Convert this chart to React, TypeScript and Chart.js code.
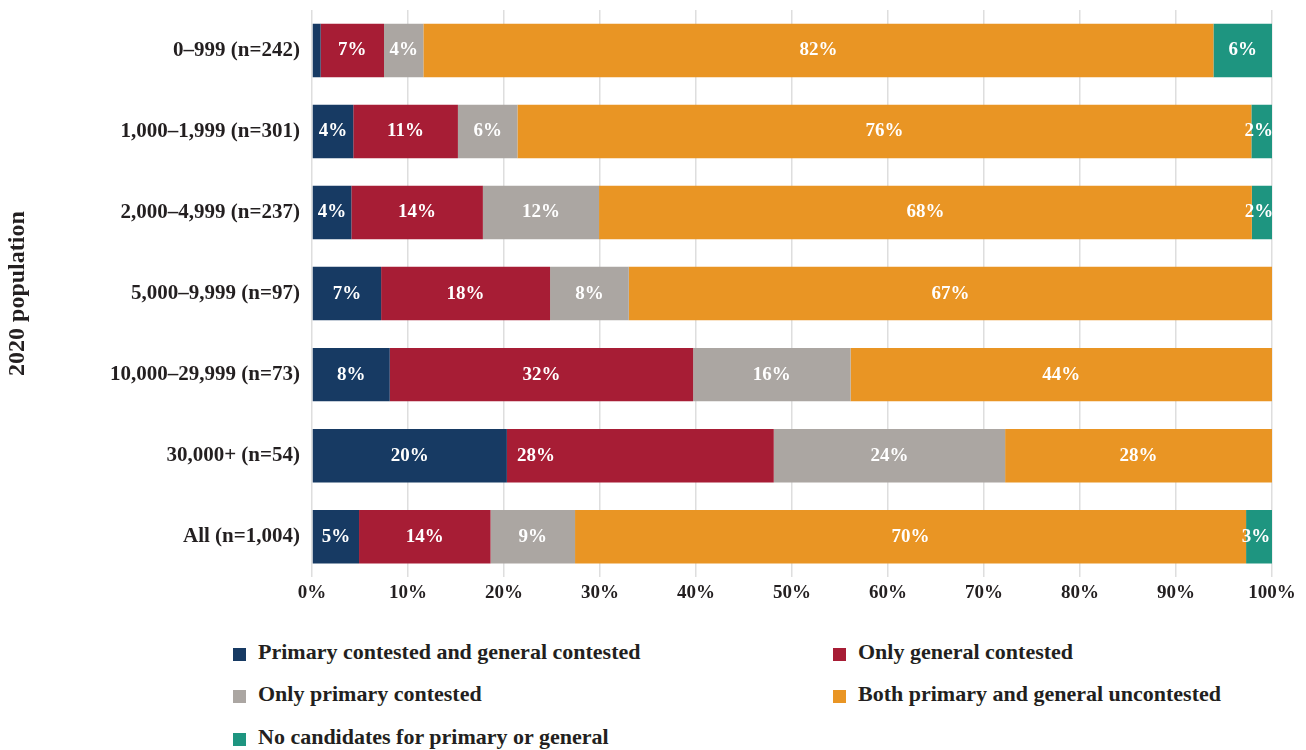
import React, { useEffect, useRef } from "react";
import { Chart, registerables } from "chart.js";

Chart.register(...registerables);

const categories = [
  "0–999 (n=242)",
  "1,000–1,999 (n=301)",
  "2,000–4,999 (n=237)",
  "5,000–9,999 (n=97)",
  "10,000–29,999 (n=73)",
  "30,000+ (n=54)",
  "All (n=1,004)",
];

const seriesNames = [
  "Primary contested and general contested",
  "Only general contested",
  "Only primary contested",
  "Both primary and general uncontested",
  "No candidates for primary or general",
];

const seriesColors = ["#173a63", "#a71d35", "#aba6a2", "#e99524", "#1e9580"];

const bothContested = [0.9, 4.3, 4.1, 7.2, 8.1, 20.3, 4.9];
const onlyGeneral = [6.6, 10.9, 13.7, 17.6, 31.6, 27.8, 13.7];
const onlyPrimary = [4.1, 6.2, 12.1, 8.2, 16.4, 24.1, 8.8];
const uncontested = [82.3, 76.45, 68.0, 67.0, 43.9, 27.8, 69.9];
const noCandidates = [6.1, 2.15, 2.1, 0, 0, 0, 2.7];

const xTickValues = [0, 10, 20, 30, 40, 50, 60, 70, 80, 90, 100];

const FONT = "'Liberation Serif', 'DejaVu Serif', serif";

const legendOrder = [
  [0, 1],
  [2, 3],
  [4],
];

export default function App() {
  const ref = useRef<HTMLCanvasElement | null>(null);

  useEffect(() => {
    document.body.style.margin = "0";
    const canvas = ref.current;
    if (!canvas) return;
    const values = [bothContested, onlyGeneral, onlyPrimary, uncontested, noCandidates];

    const labelPlugin = {
      id: "segLabels",
      afterDatasetsDraw(chart: any) {
        const ctx = chart.ctx;
        ctx.save();
        ctx.fillStyle = "#ffffff";
        ctx.font = `bold 19px ${FONT}`;
        ctx.textBaseline = "middle";
        chart.data.datasets.forEach((ds: any, di: number) => {
          const meta = chart.getDatasetMeta(di);
          meta.data.forEach((bar: any, i: number) => {
            const v = ds.data[i];
            if (v < 1.5) return;
            const text = Math.round(v) + "%";
            const left = Math.min(bar.x, bar.base);
            const right = Math.max(bar.x, bar.base);
            if (di === 1 && i === 5) {
              ctx.textAlign = "left";
              ctx.fillText(text, left + 10, bar.y);
            } else if (right - left < 26) {
              ctx.textAlign = "center";
              ctx.fillText(text, (left + right) / 2 - 3, bar.y);
            } else {
              ctx.textAlign = "center";
              ctx.fillText(text, (left + right) / 2, bar.y);
            }
          });
        });
        ctx.restore();
      },
    };

    const chart = new Chart(canvas, {
      type: "bar",
      data: {
        labels: categories,
        datasets: values.map((d, k) => ({
          label: seriesNames[k],
          data: d,
          backgroundColor: seriesColors[k],
          borderWidth: 0,
          barPercentage: 0.66,
          categoryPercentage: 1,
        })),
      },
      options: {
        indexAxis: "y",
        animation: false,
        responsive: false,
        layout: { padding: { top: 10, right: 34, bottom: 6, left: 0 } },
        plugins: {
          legend: { display: false },
          tooltip: { enabled: false },
        },
        scales: {
          x: {
            stacked: true,
            min: 0,
            max: 100,
            afterBuildTicks: (scale: any) => {
              scale.ticks = xTickValues.map((v) => ({ value: v }));
            },
            ticks: {
              callback: (v: any) => v + "%",
              color: "#231f20",
              font: { family: FONT, size: 19, weight: "bold" },
              padding: 4,
              maxRotation: 0,
            },
            grid: { color: "#dedede", lineWidth: 1.5, drawTicks: false },
            border: { display: false },
          },
          y: {
            stacked: true,
            afterFit: (scale: any) => {
              scale.width = 312;
              scale.paddingTop = 0;
              scale.paddingBottom = 0;
            },
            ticks: {
              color: "#231f20",
              font: { family: FONT, size: 21, weight: "bold" },
              padding: 12,
            },
            grid: { display: false, drawTicks: false },
            border: { display: false },
            title: {
              display: true,
              text: "2020 population",
              color: "#231f20",
              font: { family: FONT, size: 24, weight: "bold" },
              padding: { top: 3, bottom: 0 },
            },
          },
        },
      },
      plugins: [labelPlugin],
    } as any);
    return () => chart.destroy();
  }, []);

  const rowY = [652, 694, 737];
  const colBox = [233, 833];

  return (
    <div style={{ position: "relative", width: 1306, height: 750, background: "#fff" }}>
      <canvas ref={ref} width={1306} height={614} style={{ display: "block" }} />
      {legendOrder.map((row, r) =>
        row.map((si, c) => (
          <div
            key={si}
            style={{
              position: "absolute",
              left: colBox[c],
              top: rowY[r] - 14,
              height: 28,
              display: "flex",
              alignItems: "center",
              fontFamily: FONT,
              fontWeight: "bold",
              fontSize: 22,
              color: "#231f20",
              whiteSpace: "nowrap",
            }}
          >
            <span
              style={{
                display: "inline-block",
                width: 13,
                height: 13,
                marginTop: 5,
                background: seriesColors[si],
                marginRight: 12,
              }}
            />
            <span>{seriesNames[si]}</span>
          </div>
        ))
      )}
    </div>
  );
}
